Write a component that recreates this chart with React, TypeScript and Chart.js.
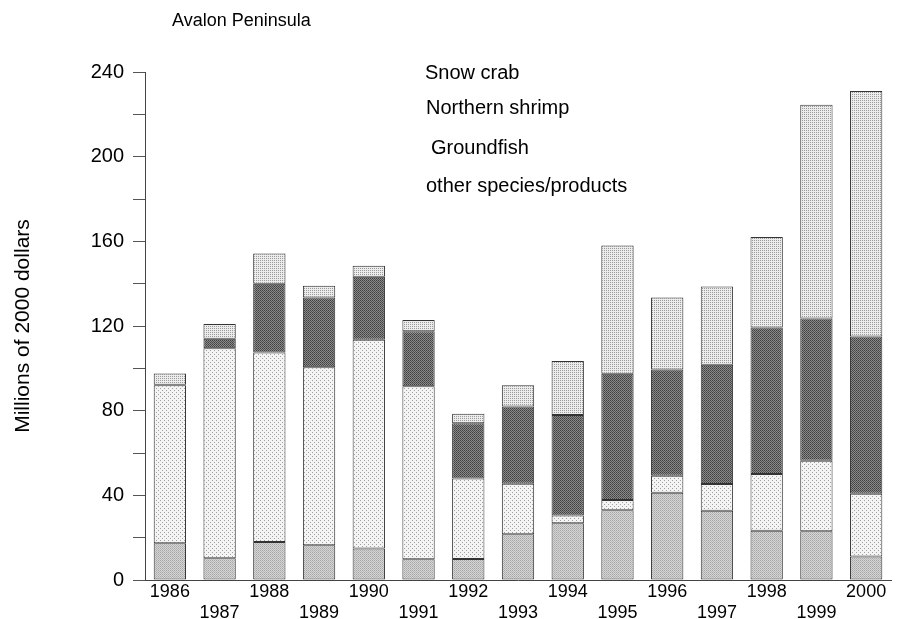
import React, { useEffect, useRef } from 'react';
import { Chart, registerables } from 'chart.js';

Chart.register(...registerables);

const years = ['1986', '1987', '1988', '1989', '1990', '1991', '1992', '1993', '1994', '1995', '1996', '1997', '1998', '1999', '2000'];
const otherSpecies = [17.4, 10.3, 17.9, 16.4, 14.9, 9.8, 9.9, 21.6, 26.8, 33.0, 41.2, 32.7, 23.3, 23.0, 11.1];
const groundfish = [74.6, 99.2, 89.6, 84.1, 98.6, 81.7, 38.1, 23.9, 3.7, 4.8, 8.1, 12.7, 26.8, 33.3, 29.7];
const northernShrimp = [0.3, 4.5, 32.5, 33.0, 29.8, 26.0, 26.0, 36.5, 47.5, 59.7, 50.1, 56.3, 69.2, 67.2, 74.2];
const snowCrab = [5.3, 7.0, 14.3, 5.5, 5.2, 5.3, 4.5, 10.0, 25.5, 60.5, 34.1, 37.0, 42.7, 101.0, 116.0];
const legendLabels = ['Snow crab', 'Northern shrimp', 'Groundfish', 'other species/products'];
const chartTitle = 'Avalon Peninsula';
const yAxisTitle = 'Millions of 2000 dollars';

const FONT = '"Liberation Sans", Arial, sans-serif';

function makePattern(size: number, bg: string, dots: Array<[number, number, string]>) {
  const c = document.createElement('canvas');
  c.width = size;
  c.height = size;
  const g = c.getContext('2d')!;
  g.fillStyle = bg;
  g.fillRect(0, 0, size, size);
  for (const [x, y, col] of dots) {
    g.fillStyle = col;
    g.fillRect(x, y, 1, 1);
  }
  const ctx = document.createElement('canvas').getContext('2d')!;
  return ctx.createPattern(c, 'repeat')!;
}

const textPlugin = {
  id: 'textPlugin',
  afterDraw(chart: any) {
    const ctx = chart.ctx;
    ctx.save();
    ctx.fillStyle = '#000';
    ctx.textBaseline = 'middle';
    ctx.textAlign = 'left';
    ctx.font = `18px ${FONT}`;
    ctx.fillText(chartTitle, 172, 21);
    ctx.font = `20px ${FONT}`;
    const pos: Array<[number, number]> = [[425, 73], [426, 108], [431, 148], [426, 186]];
    legendLabels.forEach((t, i) => ctx.fillText(t, pos[i][0], pos[i][1]));
    ctx.restore();
  },
};

export default function App() {
  const ref = useRef<HTMLCanvasElement>(null);
  useEffect(() => {
    const otherPat = makePattern(4, '#d4d4d4', [[0, 0, '#a8a8a8'], [2, 0, '#a8a8a8'], [1, 1, '#b8b8b8'], [3, 1, '#b8b8b8'], [0, 2, '#a8a8a8'], [2, 2, '#a8a8a8'], [1, 3, '#b8b8b8'], [3, 3, '#b8b8b8']]);
    const gfPat = makePattern(4, '#f4f4f4', [[0, 0, '#a0a0a0'], [2, 2, '#a0a0a0']]);
    const shrimpPat = makePattern(2, '#8a8a8a', [[0, 0, '#404040'], [1, 1, '#505050']]);
    const crabPat = makePattern(2, '#ececec', [[0, 0, '#9a9a9a']]);
    const border = '#333';
    const ds = (label: string, data: number[], bg: any) => ({
      label,
      data,
      backgroundColor: bg,
      borderColor: border,
      borderWidth: 1,
      borderSkipped: false,
      categoryPercentage: 1,
      barPercentage: 0.65,
    });
    const chart = new Chart(ref.current!, {
      type: 'bar',
      data: {
        labels: years,
        datasets: [
          ds('other species/products', otherSpecies, otherPat),
          ds('Groundfish', groundfish, gfPat),
          ds('Northern shrimp', northernShrimp, shrimpPat),
          ds('Snow crab', snowCrab, crabPat),
        ],
      },
      options: {
        animation: false,
        responsive: true,
        maintainAspectRatio: false,
        layout: { padding: { top: 72, right: 7, bottom: 0, left: 0 } },
        plugins: {
          legend: { display: false },
          tooltip: { enabled: false },
          title: { display: false },
        },
        scales: {
          x: {
            stacked: true,
            offset: true,
            grid: { display: false, drawTicks: false },
            border: { display: true, color: '#444', width: 1 },
            ticks: {
              color: '#000',
              font: { family: FONT, size: 18, lineHeight: 1.2 },
              padding: 1,
              maxRotation: 0,
              autoSkip: false,
              callback: (_v: any, i: number) => (i % 2 === 0 ? years[i] : ['', years[i]]),
            },
            afterFit: (s: any) => { s.height = 39; },
          },
          y: {
            stacked: true,
            min: 0,
            max: 240,
            grid: { display: true, drawOnChartArea: false, drawTicks: true, tickLength: 12, color: '#555' },
            border: { display: true, color: '#444', width: 1 },
            ticks: {
              stepSize: 20,
              color: '#000',
              font: { family: FONT, size: 20 },
              padding: 9,
              callback: (v: any) => (Number(v) % 40 === 0 ? String(v) : ''),
            },
            title: {
              display: true,
              text: yAxisTitle,
              color: '#000',
              font: { family: FONT, size: 21 },
              padding: { top: 11, bottom: 0 },
            },
            afterFit: (s: any) => { s.width = 145; },
          },
        },
      },
      plugins: [textPlugin],
    });
    return () => chart.destroy();
  }, []);
  return (
    <div style={{ position: 'fixed', left: 0, top: 0, width: 898, height: 619, background: '#fff' }}>
      <canvas ref={ref} />
    </div>
  );
}
